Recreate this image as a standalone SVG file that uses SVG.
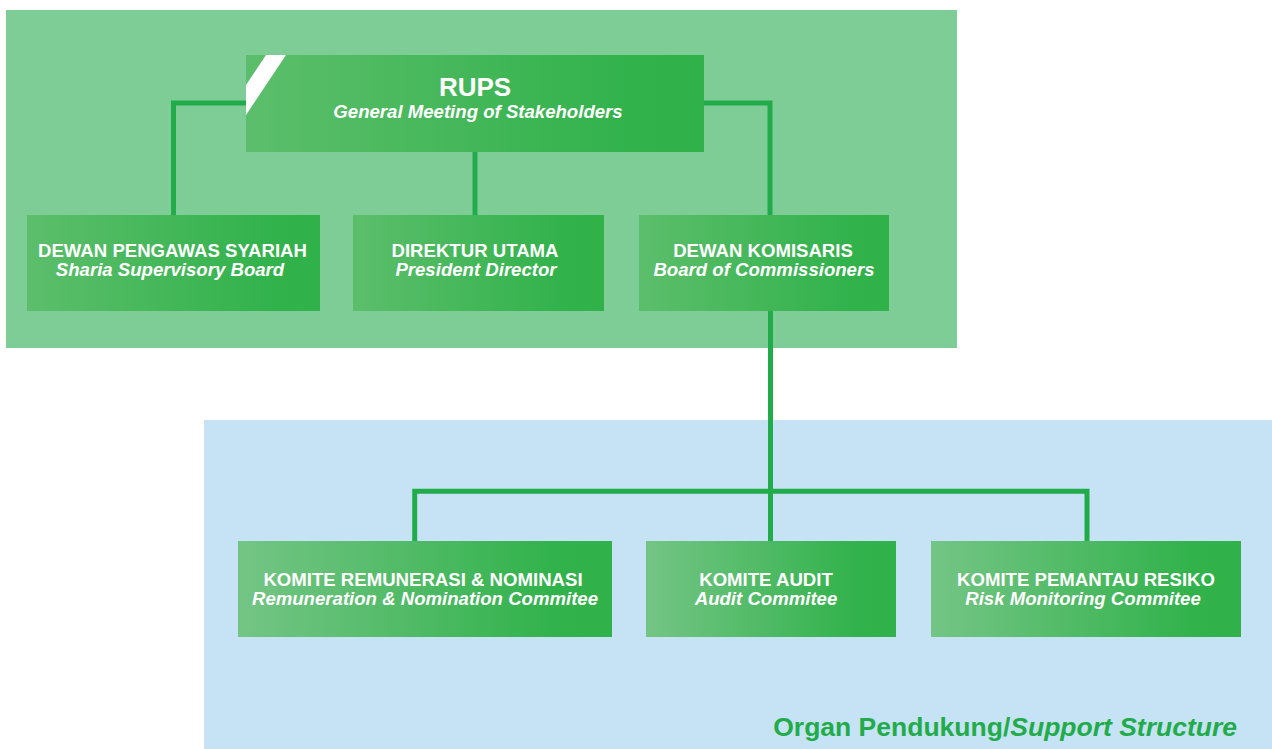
<svg xmlns="http://www.w3.org/2000/svg" width="1272" height="749" viewBox="0 0 1272 749">
<defs>
<linearGradient id="gTop" x1="0" y1="0" x2="1" y2="0">
<stop offset="0" stop-color="#5cbe6b"/>
<stop offset="0.85" stop-color="#31b24b"/>
<stop offset="1" stop-color="#30b14a"/>
</linearGradient>
<linearGradient id="gBot" x1="0" y1="0" x2="1" y2="0">
<stop offset="0" stop-color="#74c585"/>
<stop offset="0.85" stop-color="#31b24b"/>
<stop offset="1" stop-color="#30b14a"/>
</linearGradient>
<style>
.t{font-family:"Liberation Sans",Arial,sans-serif;font-weight:bold;fill:#ffffff;text-anchor:middle;font-size:18.6px}
.i{font-style:italic;font-size:18.6px}
.c{fill:none;stroke:#22ab4a;stroke-width:5;stroke-linejoin:miter}
</style>
</defs>
<rect x="0" y="0" width="1272" height="749" fill="#ffffff"/>
<rect x="6" y="10" width="951" height="338" fill="#7ecd96"/>
<rect x="204" y="420" width="1068" height="329" fill="#c5e3f4"/>
<g id="connectors">
<path class="c" d="M246,103 H173.5 V215"/>
<path class="c" d="M475,152 V215"/>
<path class="c" d="M704,103 H770 V215"/>
<path class="c" d="M770.5,311 V541"/>
<path class="c" d="M414.7,541 V491.3 H1087 V541"/>
</g>
<g id="rups">
<rect x="246" y="55" width="458" height="97" fill="url(#gTop)"/>
<polygon points="266,55 286,55 246,115 246,85" fill="#ffffff"/>
<text class="t" x="475" y="95.7" style="font-size:26px">RUPS</text>
<text class="t i" x="478" y="118.3">General Meeting of Stakeholders</text>
</g>
<g id="dps">
<rect x="27" y="215" width="293" height="96" fill="url(#gTop)"/>
<text class="t" x="172.5" y="256.5">DEWAN PENGAWAS SYARIAH</text>
<text class="t i" x="170" y="275.5">Sharia Supervisory Board</text>
</g>
<g id="du">
<rect x="353" y="215" width="251" height="96" fill="url(#gTop)"/>
<text class="t" x="475" y="256.5">DIREKTUR UTAMA</text>
<text class="t i" x="476" y="275.5">President Director</text>
</g>
<g id="dk">
<rect x="639" y="215" width="250" height="96" fill="url(#gTop)"/>
<text class="t" x="763" y="256.5">DEWAN KOMISARIS</text>
<text class="t i" x="764" y="275.5">Board of Commissioners</text>
</g>
<g id="krn">
<rect x="238" y="541" width="374" height="96" fill="url(#gBot)"/>
<text class="t" x="423" y="586">KOMITE REMUNERASI &amp; NOMINASI</text>
<text class="t i" x="425" y="605">Remuneration &amp; Nomination Commitee</text>
</g>
<g id="ka">
<rect x="646" y="541" width="250" height="96" fill="url(#gBot)"/>
<text class="t" x="766" y="586">KOMITE AUDIT</text>
<text class="t i" x="766" y="605">Audit Commitee</text>
</g>
<g id="kpr">
<rect x="931" y="541" width="310" height="96" fill="url(#gBot)"/>
<text class="t" x="1086" y="586">KOMITE PEMANTAU RESIKO</text>
<text class="t i" x="1083" y="605">Risk Monitoring Commitee</text>
</g>
<text x="1237" y="735.7" style="font-family:'Liberation Sans',Arial,sans-serif;font-weight:bold;font-size:26.5px;fill:#22ab4a;text-anchor:end">Organ Pendukung/<tspan font-style="italic">Support Structure</tspan></text>
</svg>
